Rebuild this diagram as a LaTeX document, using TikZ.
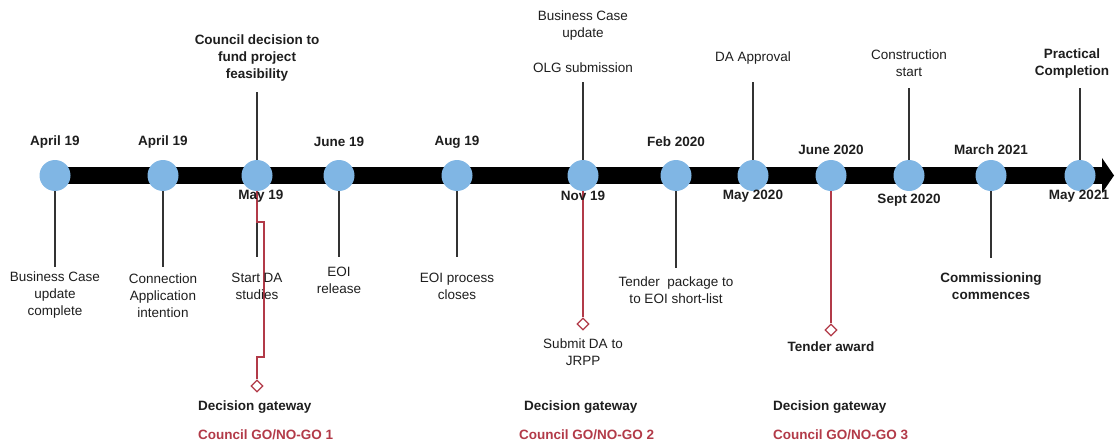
\documentclass[tikz,border=0pt]{standalone}
\usepackage{fontspec}
\setmainfont{Liberation Sans}
\usetikzlibrary{shapes.geometric}
\definecolor{dotblue}{RGB}{128,182,228}
\definecolor{gatered}{RGB}{178,58,72}
\definecolor{txt}{RGB}{30,30,30}
\tikzset{
  dot/.style={circle,fill=dotblue,minimum size=31pt,inner sep=0pt},
  lbl/.style={align=center,inner sep=0pt,text=txt,font=\fontsize{13.5}{17}\selectfont},
  blbl/.style={lbl,font=\fontsize{13.5}{17}\selectfont\bfseries},
  rlbl/.style={blbl,text=gatered},
  stem/.style={draw=black!80,line width=1.4pt},
  redstem/.style={draw=gatered,line width=1.4pt},
  gate/.style={diamond,draw=gatered,fill=white,line width=1.3pt,minimum size=12pt,inner sep=0pt},
}
\begin{document}
\begin{tikzpicture}[x=1pt,y=-1pt]
\useasboundingbox (0,0) rectangle (1115,441);
% bar and arrow head
\fill (55,167) rectangle (1104,184);
\fill (1102,158) -- (1114,175.5) -- (1102,193) -- cycle;
% circles
\foreach \n/\x in {c1/55,c2/163,c3/257,c4/339,c5/457,c6/583,c7/676,c8/753,c9/831,c10/909,c11/991,c12/1080}
  \node[dot] (\n) at (\x,175.5) {};
% end coordinates
\coordinate (e1) at (55,267);
\coordinate (e2) at (163,267);
\coordinate (e3u) at (257,92);
\coordinate (e3) at (257,257);
\coordinate (e4) at (339,257);
\coordinate (e5) at (457,257);
\coordinate (e6u) at (583,82);
\coordinate (e7) at (676,268);
\coordinate (e8u) at (753,82);
\coordinate (e10u) at (909,88);
\coordinate (e11) at (991,258);
\coordinate (e12u) at (1080,88);
\draw[stem] (c1.south) -- (e1);
\draw[stem] (c2.south) -- (e2);
\draw[stem] (c3.north) -- (e3u);
\draw[stem] (c3.south) -- (e3);
\draw[stem] (c4.south) -- (e4);
\draw[stem] (c5.south) -- (e5);
\draw[stem] (c6.north) -- (e6u);
\draw[stem] (c7.south) -- (e7);
\draw[stem] (c8.north) -- (e8u);
\draw[stem] (c10.north) -- (e10u);
\draw[stem] (c11.south) -- (e11);
\draw[stem] (c12.north) -- (e12u);
% gateways
\node[gate] (g1) at (257,386) {};
\node[gate] (g2) at (583,324) {};
\node[gate] (g3) at (831,330) {};
\draw[redstem] (c3.south) -- (257,222) -- (264,222) -- (264,357) -- (257,357) -- (g1.north);
\draw[redstem] (c6.south) -- (g2.north);
\draw[redstem] (c9.south) -- (g3.north);
% top date labels
\node[blbl] (d1) at (55,142) {April 19};
\node[blbl] (d2) at (163,142) {April 19};
\node[blbl] (d4) at (339,142) {June 19};
\node[blbl] (d5) at (457,142) {Aug 19};
\node[blbl] (d7) at (676,142) {Feb 2020};
\node[blbl] (d9) at (831,150) {June 2020};
\node[blbl] (d11) at (991,150) {March 2021};
% bottom date labels
\node[blbl] (d3) at (261,196) {May 19};
\node[blbl] (d6) at (583,196) {Nov 19};
\node[blbl] (d8) at (753,196) {May 2020};
\node[blbl] (d10) at (909,200) {Sept 2020};
\node[blbl] (d12) at (1079,196) {May 2021};
% upper texts
\node[blbl] (t3u) at (257,58) {Council decision to\\fund project\\feasibility};
\node[lbl] (t6a) at (583,25.5) {Business Case\\update};
\node[lbl] (t6u) at (583,68) {OLG submission};
\node[lbl] (t8u) at (753,58) {DA Approval};
\node[lbl] (t10u) at (909,63.5) {Construction\\start};
\node[blbl] (t12u) at (1072,64) {Practical\\Completion};
% lower texts
\node[lbl] (t1) at (55,295.5) {Business Case\\update\\complete};
\node[lbl] (t2) at (163,295.5) {Connection\\Application\\intention};
\node[lbl] (t3) at (257,286.5) {Start DA\\studies};
\node[lbl] (t4) at (339,280.5) {EOI\\release};
\node[lbl] (t5) at (457,286.5) {EOI process\\closes};
\node[lbl] (t6) at (583,352.5) {Submit DA to\\JRPP};
\node[lbl] (t7) at (676,290) {Tender\ \ package to\\to EOI short-list};
\node[blbl] (t9) at (831,347) {Tender award};
\node[blbl] (t11) at (991,286.5) {Commissioning\\commences};
% gateway texts
\node[blbl,anchor=west] (k1) at (198,407) {Decision gateway};
\node[rlbl,anchor=west] (r1) at (198,435) {Council GO/NO-GO 1};
\node[blbl,anchor=west] (k2) at (524,407) {Decision gateway};
\node[rlbl,anchor=west] (r2) at (519,435) {Council GO/NO-GO 2};
\node[blbl,anchor=west] (k3) at (773,407) {Decision gateway};
\node[rlbl,anchor=west] (r3) at (773,435) {Council GO/NO-GO 3};
\end{tikzpicture}
\end{document}
